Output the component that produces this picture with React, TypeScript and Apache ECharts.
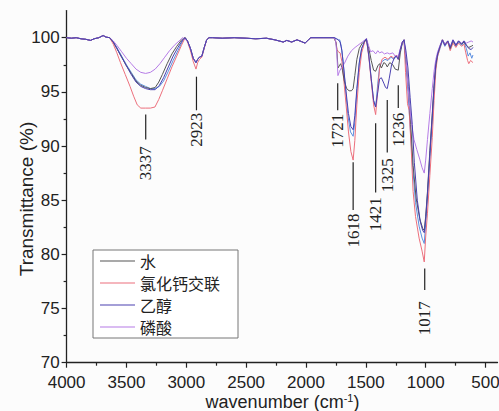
import React, { useEffect, useRef } from 'react';
import * as echarts from 'echarts';

// ---- legend / series names ----
const seriesNames = ['水', '氯化钙交联', '乙醇', '磷酸'];
const extraName = ' ';

// ---- axis ticks ----
const xMajor = [500, 1000, 1500, 2000, 2500, 3000, 3500, 4000];
const xMinor = [750, 1250, 1750, 2250, 2750, 3250, 3750];
const yMajor = [70, 75, 80, 85, 90, 95, 100];
const yMinor = [72.5, 77.5, 82.5, 87.5, 92.5, 97.5];

// ---- spectra segments: [wavenumber, transmittance %] ----
const baselineHigh: number[][] = [[4000,100],[3960,99.95],[3920,100],[3880,99.9],[3840,99.85],[3800,99.75],[3770,99.9],[3730,100],[3695,100.2],[3670,100.05],[3640,100]];

const ohWater: number[][] = [[3610,99.6],[3580,99.0],[3540,98.2],[3500,97.4],[3460,96.7],[3420,96.0],[3380,95.6],[3340,95.4],[3300,95.3],[3260,95.4],[3230,95.9],[3200,96.6],[3160,97.6],[3120,98.5],[3080,99.2],[3040,99.8],[3010,100]];
const ohPink: number[][] = [[3610,99.4],[3580,98.6],[3550,97.7],[3510,96.6],[3470,95.5],[3440,94.6],[3410,93.8],[3380,93.5],[3340,93.5],[3300,93.5],[3262,93.6],[3230,94.3],[3200,95.1],[3160,96.2],[3120,97.3],[3080,98.3],[3040,99.3],[3010,100]];
const ohEthanol: number[][] = [[3610,99.6],[3580,99.0],[3540,98.2],[3500,97.4],[3460,96.6],[3420,95.9],[3380,95.5],[3340,95.3],[3300,95.2],[3260,95.2],[3225,95.6],[3190,96.3],[3150,97.3],[3110,98.3],[3070,99.1],[3030,99.8],[3010,100]];
const ohBlue: number[][] = [[3610,99.6],[3580,99.1],[3540,98.3],[3500,97.5],[3460,96.8],[3420,96.1],[3380,95.7],[3340,95.5],[3300,95.3],[3260,95.3],[3225,95.5],[3190,96.0],[3150,96.9],[3110,97.9],[3070,98.8],[3035,99.6],[3010,100]];
const ohPhosphate: number[][] = [[3610,99.7],[3580,99.3],[3540,98.7],[3500,98.1],[3460,97.6],[3420,97.1],[3380,96.8],[3340,96.7],[3300,96.8],[3260,97.1],[3220,97.6],[3180,98.2],[3140,98.8],[3100,99.3],[3060,99.7],[3030,100]];

const ch2923: number[][] = [[2990,99.7],[2965,99.0],[2942,98.1],[2919,97.7],[2905,98.0],[2890,98.2],[2870,98.3],[2850,99.1],[2830,99.8],[2810,100]];
const ch2923Pink: number[][] = [[2990,99.6],[2965,98.8],[2942,97.8],[2919,97.1],[2905,97.7],[2890,98.0],[2870,98.2],[2850,99.0],[2830,99.8],[2810,100]];

const midBaseline: number[][] = [[2780,100],[2700,99.95],[2600,100],[2500,99.95],[2420,99.9],[2330,99.95],[2260,99.8],[2190,99.6],[2160,99.75],[2120,99.6],[2075,99.8],[2040,99.65],[2008,99.5],[1980,99.8],[1960,100],[1850,100],[1765,100]];

const fpWater: number[][] = [[1760,100],[1748,99.5],[1740,98.5],[1733,97.2],[1722,97.4],[1710,97.6],[1695,97.0],[1680,96.0],[1660,95.3],[1640,95.1],[1620,95.1],[1606,95.3],[1592,96.5],[1575,98.0],[1555,99.0],[1530,99.5],[1495,99.8],[1475,99.0],[1455,97.9],[1435,97.0],[1418,96.9],[1400,97.4],[1385,97.6],[1370,97.2],[1350,97.7],[1335,97.6],[1321,97.3],[1300,97.7],[1275,97.5],[1255,97.1],[1229,97.0],[1212,98.6],[1195,99.5],[1181,99.8],[1165,98.0],[1145,95.5],[1125,92.0],[1105,88.2],[1080,85.2],[1050,83.3],[1025,82.4],[1012,82.2],[1000,83.5],[985,85.8],[965,89.6],[945,93.0],[930,95.6],[915,97.5],[900,98.5],[880,99.2],[860,99.8],[840,99.4],[815,99.7],[795,99.0],[772,99.7],[748,99.3],[725,99.7],[700,99.4],[680,99.6],[660,99.3],[640,99.1],[620,99.2],[605,99.3]];
const fpPink: number[][] = [[1760,100],[1750,99.6],[1740,98.9],[1730,98.7],[1715,98.6],[1700,97.8],[1685,96.2],[1665,93.8],[1645,91.3],[1625,89.5],[1606,88.7],[1592,90.5],[1575,93.8],[1555,96.8],[1535,98.6],[1510,99.6],[1495,99.9],[1475,98.2],[1455,96.0],[1435,93.8],[1418,92.9],[1400,95.2],[1385,97.2],[1365,98.0],[1340,98.2],[1315,98.0],[1290,98.3],[1265,98.1],[1245,98.4],[1229,98.0],[1212,98.9],[1195,99.6],[1181,99.8],[1168,96.8],[1152,93.9],[1138,93.3],[1122,90.0],[1105,85.8],[1085,83.5],[1055,81.5],[1030,80.3],[1012,79.3],[1000,81.6],[985,83.8],[965,87.3],[945,90.8],[930,94.2],[915,97.0],[900,98.3],[880,99.1],[860,99.8],[840,99.3],[815,99.6],[795,98.8],[772,99.5],[748,99.1],[725,99.5],[700,99.2],[680,99.4],[665,98.6],[650,97.9],[640,97.6],[625,97.9],[605,97.7]];
const fpEthanol: number[][] = [[1760,100],[1745,99.9],[1730,99.8],[1715,99.6],[1700,98.8],[1685,97.2],[1665,95.0],[1645,93.0],[1625,91.8],[1606,91.5],[1592,92.8],[1575,95.3],[1555,97.7],[1535,99.0],[1510,99.7],[1495,99.9],[1475,98.3],[1455,96.2],[1435,94.2],[1418,93.6],[1400,95.0],[1385,96.2],[1370,96.3],[1350,95.8],[1335,95.4],[1321,95.3],[1305,96.2],[1285,97.5],[1260,98.2],[1245,98.3],[1229,98.0],[1212,98.9],[1195,99.6],[1181,99.8],[1165,98.8],[1148,97.2],[1130,94.5],[1112,92.0],[1095,88.5],[1070,85.0],[1045,83.0],[1025,82.2],[1012,82.0],[1000,83.3],[985,85.6],[965,89.3],[945,92.8],[930,95.5],[915,97.6],[900,98.5],[880,99.2],[860,99.8],[840,99.3],[815,99.7],[795,99.1],[772,99.8],[748,99.3],[725,99.7],[700,99.4],[680,99.7],[660,99.3],[640,99.0],[620,98.9],[605,99.1]];
const fpBlue: number[][] = [[1760,100],[1745,99.9],[1730,99.8],[1718,99.8],[1705,99.2],[1690,97.8],[1670,95.3],[1650,92.8],[1628,91.3],[1606,90.9],[1592,92.2],[1575,95.0],[1555,97.6],[1535,99.0],[1510,99.6],[1495,99.9],[1475,98.4],[1455,96.2],[1435,94.2],[1418,93.6],[1400,95.8],[1385,97.3],[1365,97.8],[1340,98.0],[1315,97.9],[1290,98.2],[1265,98.0],[1245,98.3],[1229,98.0],[1212,98.8],[1195,99.5],[1181,99.8],[1165,97.5],[1148,95.0],[1128,91.5],[1108,88.0],[1085,84.8],[1055,82.6],[1030,81.5],[1012,81.0],[1000,82.8],[985,85.2],[965,88.8],[945,92.3],[930,95.2],[915,97.4],[900,98.3],[880,99.0],[860,99.7],[840,99.2],[815,99.6],[795,98.9],[772,99.7],[748,99.2],[725,99.6],[700,99.3],[680,99.6],[660,99.0],[645,98.3],[630,98.6],[615,98.1],[605,98.4]];
const fpPhosphate: number[][] = [[1760,100],[1752,99.7],[1743,98.6],[1733,96.5],[1720,96.9],[1700,97.3],[1680,97.6],[1650,98.3],[1620,98.8],[1590,99.1],[1566,99.3],[1530,99.6],[1495,99.9],[1475,99.2],[1460,98.7],[1440,98.8],[1418,98.5],[1400,98.8],[1385,98.6],[1365,98.7],[1345,98.5],[1321,98.6],[1300,98.5],[1275,98.6],[1255,98.3],[1229,98.3],[1212,99.0],[1195,99.6],[1181,99.8],[1165,98.2],[1150,95.8],[1135,93.8],[1118,92.0],[1098,90.6],[1075,89.7],[1050,88.8],[1030,88.0],[1012,87.5],[1000,88.7],[985,90.6],[965,93.0],[945,95.3],[930,96.9],[915,98.0],[900,98.7],[880,99.3],[860,99.8],[840,99.4],[815,99.7],[795,99.2],[772,99.8],[748,99.4],[725,99.7],[700,99.5],[680,99.7],[660,99.5],[640,99.6],[620,99.7],[605,99.6]];

// ---- peak annotations ----
const peakLabels = ['3337', '2923', '1721', '1618', '1421', '1325', '1236', '1017'];
const peakX = [3339, 2915, 1735, 1606, 1418, 1321, 1229, 1008];
const leaderTop = [92.9, 96.4, 95.8, 88.5, 92.1, 94.25, 95.6, 78.7];
const leaderBottom = [90.6, 93.3, 93.3, 84.1, 85.7, 89.4, 93.5, 76.7];
const labelCenter = [88.4, 91.5, 91.4, 82.2, 83.7, 87.3, 91.5, 74.1];

const colors = {
  water: '#555555',
  pink: '#ec6f7c',
  ethanol: '#4a40b0',
  phosphate: '#b57be6',
  blue: '#5b8fe0',
};

export default function App() {
  const ref = useRef<HTMLDivElement>(null);
  useEffect(() => {
    if (!ref.current) return;
    const chart = echarts.init(ref.current, undefined, { renderer: 'svg' });
    const water = [...baselineHigh, ...ohWater, ...ch2923, ...midBaseline, ...fpWater];
    const pink = [...baselineHigh, ...ohPink, ...ch2923Pink, ...midBaseline, ...fpPink];
    const ethanol = [...baselineHigh, ...ohEthanol, ...ch2923, ...midBaseline, ...fpEthanol];
    const blue = [...baselineHigh, ...ohBlue, ...ch2923, ...midBaseline, ...fpBlue];
    const phosphate = [...baselineHigh, ...ohPhosphate, ...ch2923, ...midBaseline, ...fpPhosphate];
    const annData = peakX.map((x, i) => [x, leaderTop[i], leaderBottom[i], labelCenter[i]]);
    const axisColor = '#222';
    const lineSeries = (name: string, data: number[][], color: string) => ({
      name, type: 'line', data, symbol: 'none', showSymbol: false, color,
      lineStyle: { color, width: 1 }, silent: true, z: 3,
    });
    const plain = (v: number) => String(v);
    const option: any = {
      animation: false,
      backgroundColor: '#fcfcfc',
      grid: { left: 66.6, right: 1.5, top: 10.6, bottom: 48.3, outerBoundsMode: 'none' },
      xAxis: [
        {
          type: 'value', min: 400, max: 4000, inverse: true, position: 'bottom',
          axisLine: { lineStyle: { color: axisColor, width: 1.3 } },
          axisTick: { inside: false, length: 5, customValues: xMajor, lineStyle: { color: axisColor, width: 1.2 } },
          axisLabel: { customValues: xMajor, formatter: plain, margin: 11, fontSize: 17, fontFamily: 'Liberation Sans', color: axisColor },
          splitLine: { show: false },
        },
        {
          type: 'value', min: 400, max: 4000, inverse: true, position: 'bottom',
          axisLine: { show: false },
          axisTick: { inside: false, length: 3, customValues: xMinor, lineStyle: { color: axisColor, width: 1.2 } },
          axisLabel: { show: false }, splitLine: { show: false },
        },
      ],
      yAxis: [
        {
          type: 'value', min: 70, max: 102.5, position: 'left',
          axisLine: { show: true, lineStyle: { color: axisColor, width: 1.3 } },
          axisTick: { show: true, inside: false, length: 5, customValues: yMajor, lineStyle: { color: axisColor, width: 1.2 } },
          axisLabel: { customValues: yMajor, formatter: plain, margin: 7, fontSize: 17, fontFamily: 'Liberation Sans', color: axisColor },
          splitLine: { show: false },
        },
        {
          type: 'value', min: 70, max: 102.5, position: 'left',
          axisLine: { show: false },
          axisTick: { show: true, inside: false, length: 3, customValues: yMinor, lineStyle: { color: axisColor, width: 1.2 } },
          axisLabel: { show: false }, splitLine: { show: false },
        },
      ],
      legend: {
        data: seriesNames, orient: 'vertical', left: 93, top: 250,
        backgroundColor: '#ffffff', borderColor: '#777', borderWidth: 1,
        padding: [1, 18, 1, 7], itemWidth: 35, itemHeight: 1.2, itemGap: 2, icon: 'rect',
        textStyle: { fontFamily: 'Noto Sans CJK SC', fontSize: 16, color: '#222', lineHeight: 20 },
      },
      graphic: [
        {
          type: 'text', x: 26.5, y: 199, rotation: Math.PI / 2,
          style: { text: 'Transmittance (%)', fontSize: 19, fontFamily: 'Liberation Sans', fill: axisColor, align: 'center', verticalAlign: 'middle' },
        },
        {
          type: 'text', x: 282.5, y: 401.5,
          style: {
            text: 'wavenumber (cm{sup|-1})', fontSize: 18, fontFamily: 'Liberation Sans', fill: axisColor, align: 'center', verticalAlign: 'middle',
            rich: { sup: { fontSize: 11, fontFamily: 'Liberation Sans', fill: axisColor, verticalAlign: 'top', padding: [0, 0, 7, 0] } },
          },
        },
      ],
      series: [
        lineSeries(extraName, blue, colors.blue),
        lineSeries(seriesNames[1], pink, colors.pink),
        lineSeries(seriesNames[0], water, colors.water),
        lineSeries(seriesNames[3], phosphate, colors.phosphate),
        lineSeries(seriesNames[2], ethanol, colors.ethanol),
        {
          type: 'custom', silent: true, z: 5, data: annData,
          renderItem: (params: any, api: any) => {
            const x = api.value(0);
            const p1 = api.coord([x, api.value(1)]);
            const p2 = api.coord([x, api.value(2)]);
            const pc = api.coord([x, api.value(3)]);
            return {
              type: 'group',
              children: [
                { type: 'line', shape: { x1: p1[0], y1: p1[1], x2: p2[0], y2: p2[1] }, style: { stroke: '#222', lineWidth: 1.2 } },
                {
                  type: 'text', x: pc[0], y: pc[1], rotation: Math.PI / 2,
                  style: { text: peakLabels[params.dataIndex], fontSize: 17, fontFamily: 'Liberation Serif', fill: '#222', align: 'center', verticalAlign: 'middle' },
                },
              ],
            };
          },
        },
      ],
    };
    chart.setOption(option);
    return () => chart.dispose();
  }, []);
  return <div ref={ref} style={{ position: 'fixed', left: 0, top: 0, width: 499, height: 411 }} />;
}
